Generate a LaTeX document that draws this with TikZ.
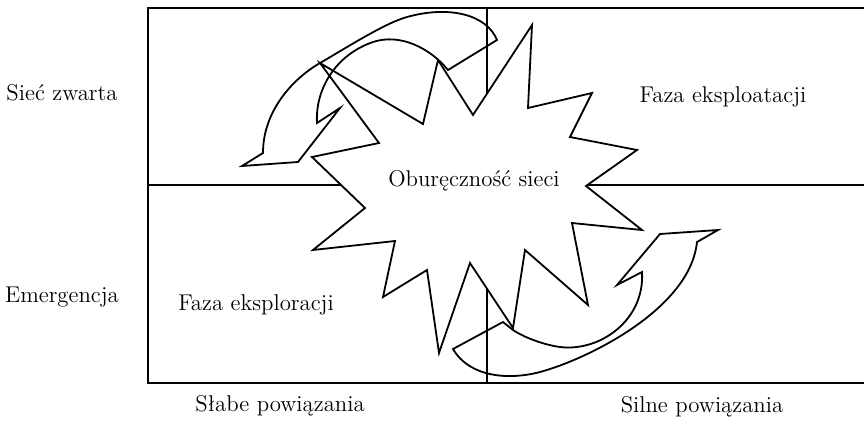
\documentclass[tikz,border=0pt]{standalone}
\usepackage{fontspec}
\usepackage{tikz}

\begin{document}
\begin{tikzpicture}[
  x={(0.5pt,0)}, y={(0,-0.5pt)},
  frame/.style={line width=0.8pt},
  ribbon/.style={line width=0.9pt, line join=miter},
  lbl/.style={font=\fontsize{11.4}{13}\selectfont, inner sep=0pt},
]
  \useasboundingbox (0,0) rectangle (864,424);

  % quadrants
  \draw[frame] (864,8) -- (148,8) -- (148,383) -- (864,383);
  \draw[frame] (148,185) -- (864,185);
  \draw[frame] (487,8) -- (487,383);

  % star
  \draw[ribbon, fill=white] (320,63) -- (423,124) -- (438,60) -- (473,115)
    -- (532,25) -- (528,108) -- (592,93) -- (570,137) -- (637,150)
    -- (586,186) -- (642,230) -- (572,223) -- (588,305) -- (525,250)
    -- (513,328) -- (470,263) -- (439,353) -- (427,270) -- (383,297)
    -- (395,241) -- (313,250) -- (365,208) -- (312,157) -- (379,143) -- cycle;

  \node[lbl] (zwarta)   at (62,93)   {Sieć zwarta};
  \node[lbl] (emerg)    at (62,297)  {Emergencja};
  \node[lbl] (eksploat) at (723,97)  {Faza eksploatacji};
  \node[lbl] (eksplor)  at (256,305) {Faza eksploracji};
  \node[lbl] (oburecz)  at (474,181) {Oburęczność sieci};
  \node[lbl] (slabe)    at (280,406) {Słabe powiązania};
  \node[lbl] (silne)    at (702,407) {Silne powiązania};

  % arrows
  \draw[ribbon] (497,40) .. controls (487,15) and (450,5) .. (407,17)
    .. controls (385,23) and (346,48) .. (320,63)
    .. controls (294,78) and (263,110) .. (263,153)
    -- (242,166) -- (298,162) -- (340,108) -- (317,123)
    .. controls (315,90) and (335,55) .. (373,42)
    .. controls (400,33) and (430,48) .. (448,70) -- cycle;
  \draw[ribbon] (453,349) .. controls (470,378) and (510,380) .. (540,372)
    .. controls (585,360) and (690,310) .. (697,242)
    -- (718,230) -- (660,234) -- (617,285) -- (642,272)
    .. controls (645,320) and (600,352) .. (560,347)
    .. controls (545,345) and (525,338) .. (513,330)
    -- (503,322) -- cycle;
\end{tikzpicture}
\end{document}
